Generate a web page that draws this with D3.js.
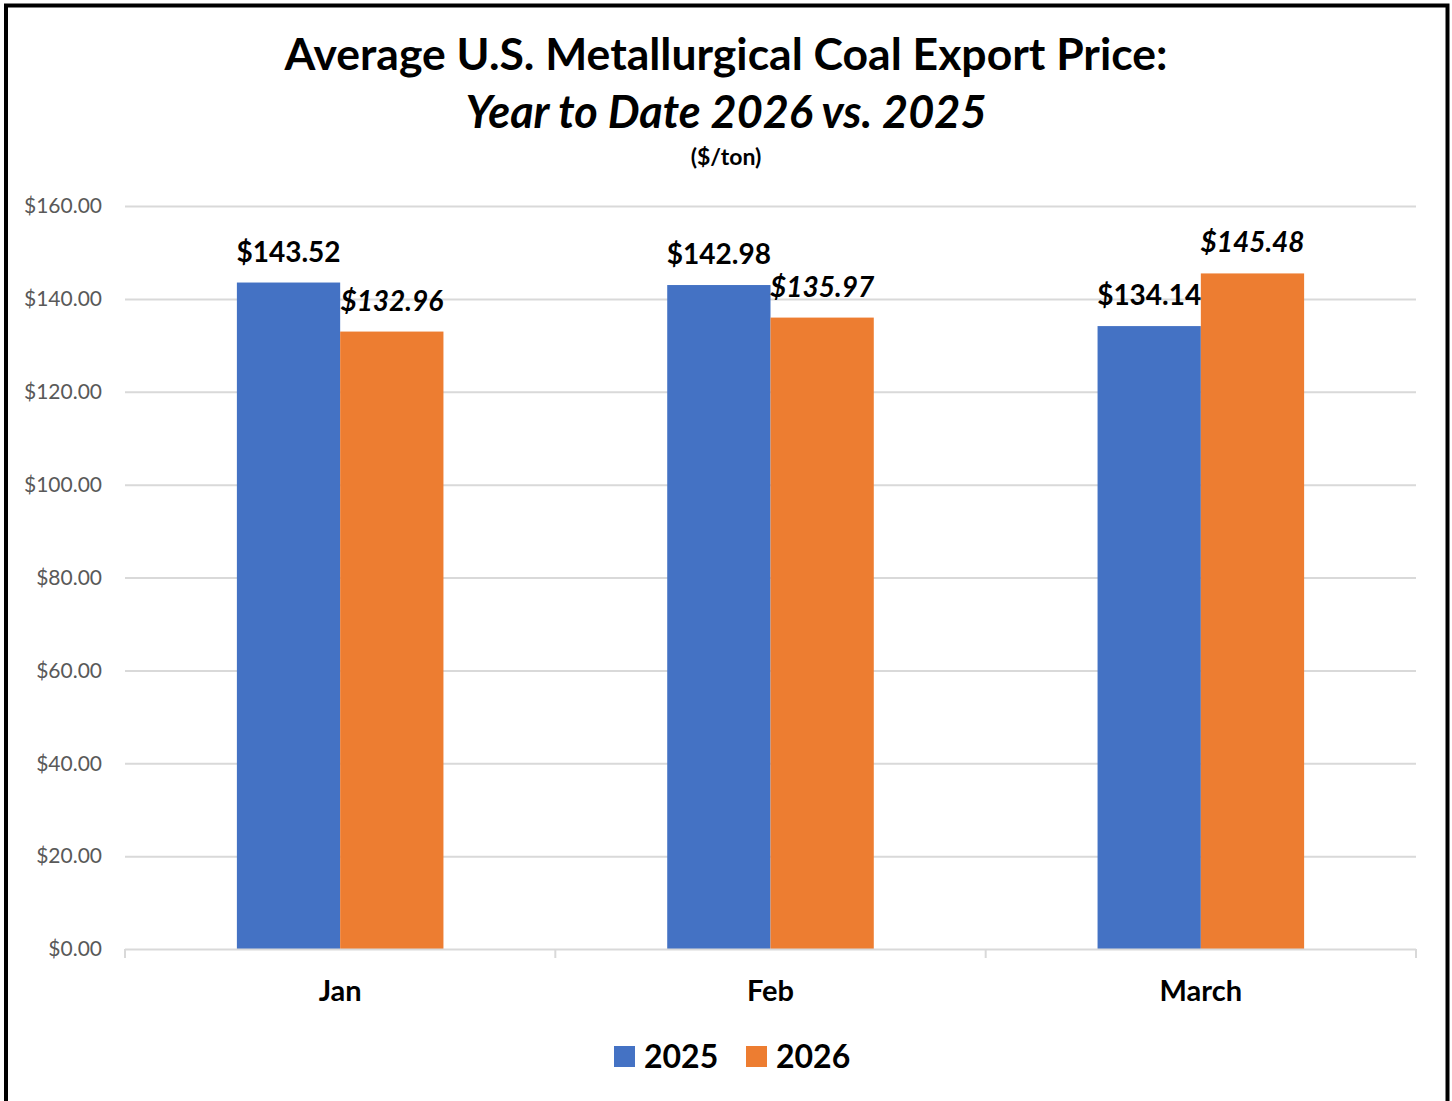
<!DOCTYPE html>
<html>
<head>
<meta charset="utf-8">
<script src="https://cdn.jsdelivr.net/npm/d3@7"></script>
<style>
  html, body { margin: 0; padding: 0; background: #fff; }
  svg { display: block; font-family: Lato, "Open Sans", sans-serif; }
</style>
</head>
<body>
<div id="chart"></div>
<script>
const months = ["Jan", "Feb", "March"]
const seriesNames = ["2025", "2026"]
const values2025 = [143.52, 142.98, 134.14]
const values2026 = [132.96, 135.97, 145.48]
const yTicks = [0, 20, 40, 60, 80, 100, 120, 140, 160]

const colors = {"2025": "#4472c4", "2026": "#ed7d31"}

const width = 1452, height = 1101
const margin = {top: 206, right: 36, bottom: 152, left: 125}

const svg = d3.select("#chart").append("svg")
  .attr("width", width)
  .attr("height", height)

svg.append("rect")
  .attr("width", width).attr("height", height)
  .attr("fill", "#fff")

// frame
svg.append("rect")
  .attr("x", 6).attr("y", 5.5)
  .attr("width", width - 10.5).attr("height", height + 10)
  .attr("fill", "none")
  .attr("stroke", "#000")
  .attr("stroke-width", 4)

const x = d3.scaleBand()
  .domain(months)
  .range([margin.left, width - margin.right])
  .padding(0)

const y = d3.scaleLinear()
  .domain([0, 160])
  .range([height - margin.bottom, margin.top])

const barW = x.bandwidth() * 0.24
const inner = d3.scaleBand()
  .domain(seriesNames)
  .range([x.bandwidth() / 2 - barW, x.bandwidth() / 2 + barW])

// grid
svg.append("g")
  .selectAll("line")
  .data(yTicks.filter(d => d > 0))
  .join("line")
    .attr("x1", margin.left)
    .attr("x2", width - margin.right)
    .attr("y1", d => y(d) + 0.5)
    .attr("y2", d => y(d) + 0.5)
    .attr("stroke", "#d9d9d9")
    .attr("stroke-width", 2)

// y labels
svg.append("g")
  .selectAll("text")
  .data(yTicks)
  .join("text")
    .attr("x", 102)
    .attr("y", d => y(d))
    .attr("dy", "0.35em")
    .attr("text-anchor", "end")
    .attr("fill", "#595959")
    .attr("font-size", 21)
    .text(d => "$" + (d === 0 ? "0.00" : d.toFixed(2)))

const rows = months.map((m, i) => ({
  month: m,
  vals: [
    {series: "2025", value: values2025[i]},
    {series: "2026", value: values2026[i]}
  ]
}))

const groups = svg.append("g")
  .selectAll("g")
  .data(rows)
  .join("g")
    .attr("transform", d => `translate(${x(d.month)},0)`)

groups.selectAll("rect")
  .data(d => d.vals)
  .join("rect")
    .attr("x", d => inner(d.series))
    .attr("y", d => y(d.value))
    .attr("width", inner.bandwidth())
    .attr("height", d => y(0) - y(d.value))
    .attr("fill", d => colors[d.series])

groups.selectAll("text")
  .data(d => d.vals)
  .join("text")
    .attr("x", d => inner(d.series) + inner.bandwidth() / 2)
    .attr("y", d => y(d.value) - 21)
    .attr("text-anchor", "middle")
    .attr("font-size", 28)
    .attr("font-weight", "bold")
    .attr("font-style", d => d.series === "2026" ? "italic" : "normal")
    .attr("fill", "#000")
    .text(d => "$" + d.value.toFixed(2))

// x axis
const axisG = svg.append("g")
axisG.append("line")
  .attr("x1", margin.left).attr("x2", width - margin.right)
  .attr("y1", y(0) + 0.5).attr("y2", y(0) + 0.5)
  .attr("stroke", "#d9d9d9").attr("stroke-width", 2)
axisG.selectAll("line.tick")
  .data(months.map(m => x(m)).concat([width - margin.right]))
  .join("line")
    .attr("class", "tick")
    .attr("x1", d => d).attr("x2", d => d)
    .attr("y1", y(0)).attr("y2", y(0) + 9)
    .attr("stroke", "#d9d9d9").attr("stroke-width", 2)
axisG.selectAll("text")
  .data(months)
  .join("text")
    .attr("x", d => x(d) + x.bandwidth() / 2)
    .attr("y", 1001)
    .attr("text-anchor", "middle")
    .attr("font-size", 29)
    .attr("font-weight", "bold")
    .text(d => d)

// titles
svg.append("text")
  .attr("x", 726).attr("y", 70)
  .attr("text-anchor", "middle")
  .attr("font-size", 44.5)
  .attr("font-weight", "bold")
  .text("Average U.S. Metallurgical Coal Export Price:")
svg.append("text")
  .attr("x", 726).attr("y", 128)
  .attr("text-anchor", "middle")
  .attr("font-size", 45)
  .attr("font-weight", "bold")
  .attr("font-style", "italic")
  .text("Year to Date 2026 vs. 2025")
svg.append("text")
  .attr("x", 726).attr("y", 165)
  .attr("text-anchor", "middle")
  .attr("font-size", 23)
  .attr("font-weight", "bold")
  .text("($/ton)")

// legend
const legend = svg.append("g")
  .selectAll("g")
  .data(seriesNames)
  .join("g")
    .attr("transform", (d, i) => `translate(${614 + i * 132},1046)`)
legend.append("rect")
  .attr("width", 21).attr("height", 21)
  .attr("fill", d => colors[d])
legend.append("text")
  .attr("x", 30).attr("y", 22)
  .attr("font-size", 32)
  .attr("font-weight", "bold")
  .text(d => d)
</script>
</body>
</html>
